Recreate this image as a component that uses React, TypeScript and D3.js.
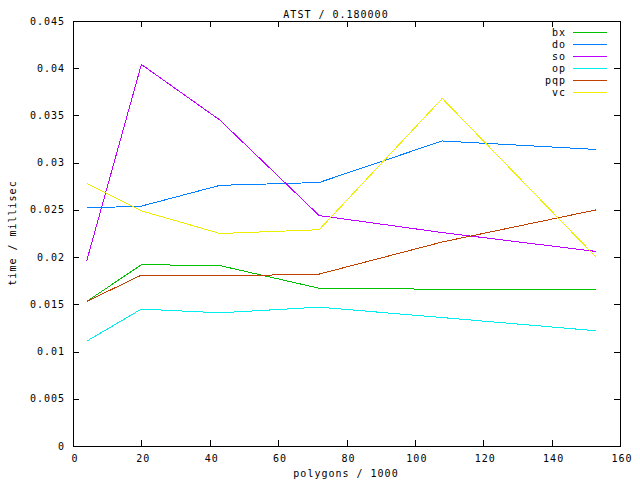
import React from "react";
import * as d3 from "d3";

const xValues = [4, 20, 43, 72, 108, 153];
const seriesNames = ["bx", "do", "so", "op", "pqp", "vc"];
const seriesColors = ["#00c000", "#0080ff", "#c000ff", "#00eeee", "#c04000", "#eeee00"];
const bx = [0.0153, 0.0192, 0.0191, 0.0167, 0.0166, 0.0166];
const doS = [0.0252, 0.0254, 0.0276, 0.0279, 0.0323, 0.0314];
const so = [0.0196, 0.0404, 0.0345, 0.0244, 0.0226, 0.0206];
const op = [0.0111, 0.0145, 0.0141, 0.0147, 0.0136, 0.0122];
const pqp = [0.0153, 0.0181, 0.018, 0.0182, 0.0216, 0.025];
const vc = [0.0278, 0.0249, 0.0225, 0.0229, 0.0368, 0.02];
const seriesValues = [bx, doS, so, op, pqp, vc];
const xTicks = [0, 20, 40, 60, 80, 100, 120, 140, 160];
const yTicks = [0, 0.005, 0.01, 0.015, 0.02, 0.025, 0.03, 0.035, 0.04, 0.045];
const yTickLabels = ["0", "0.005", "0.01", "0.015", "0.02", "0.025", "0.03", "0.035", "0.04", "0.045"];
const title = "ATST / 0.180000";
const xLabel = "polygons / 1000";
const yLabel = "time / millisec";

const W = 640, H = 480;
const L = 73, R = 620, T = 21, B = 446;
const font = "'DejaVu Sans Mono', monospace";

export default function App() {
  const x = d3.scaleLinear().domain([0, 160]).range([L, R]);
  const y = d3.scaleLinear().domain([0, 0.045]).range([B, T]);
  const line = d3.line<number>().x((_, i) => x(xValues[i])).y((d) => y(d));
  const txt = { fontFamily: font, fontSize: 10, letterSpacing: 1, fill: "#000" } as any;
  return (
    <svg width={W} height={H} style={{ position: "absolute", left: 0, top: 0, background: "#fff" }}>
      <rect x={0} y={0} width={W} height={H} fill="#fff" />
      {yTicks.map((t, i) => (
        <g key={"y" + i}>
          <line x1={L} x2={L + 6} y1={Math.round(y(t)) + 0.5} y2={Math.round(y(t)) + 0.5} stroke="#000" shapeRendering="crispEdges" />
          <line x1={R - 6} x2={R} y1={Math.round(y(t)) + 0.5} y2={Math.round(y(t)) + 0.5} stroke="#000" shapeRendering="crispEdges" />
          <text x={65} y={y(t)} dy="0.35em" textAnchor="end" {...txt}>{yTickLabels[i]}</text>
        </g>
      ))}
      {xTicks.map((t, i) => (
        <g key={"x" + i}>
          <line x1={Math.round(x(t)) + 0.5} x2={Math.round(x(t)) + 0.5} y1={B} y2={B - 6} stroke="#000" shapeRendering="crispEdges" />
          <line x1={Math.round(x(t)) + 0.5} x2={Math.round(x(t)) + 0.5} y1={T} y2={T + 6} stroke="#000" shapeRendering="crispEdges" />
          <text x={x(t) + 2} y={462} textAnchor="middle" {...txt}>{t}</text>
        </g>
      ))}
      {seriesValues.map((vals, i) => (
        <path key={"s" + i} d={line(vals) || ""} fill="none" stroke={seriesColors[i]} strokeWidth={1} shapeRendering="crispEdges" />
      ))}
      <rect x={L + 0.5} y={T + 0.5} width={R - L} height={B - T} fill="none" stroke="#000" shapeRendering="crispEdges" />
      {seriesNames.map((n, i) => (
        <g key={"l" + i}>
          <text x={566} y={32 + i * 12} dy="0.35em" textAnchor="end" {...txt}>{n}</text>
          <line x1={573} x2={607} y1={32.5 + i * 12} y2={32.5 + i * 12} stroke={seriesColors[i]} shapeRendering="crispEdges" />
        </g>
      ))}
      <text x={336} y={14} dy="0.35em" textAnchor="middle" {...txt}>{title}</text>
      <text x={346} y={473} dy="0.35em" textAnchor="middle" {...txt}>{xLabel}</text>
      <text transform={`translate(12,233) rotate(-90)`} dy="0.35em" textAnchor="middle" {...txt}>{yLabel}</text>
    </svg>
  );
}
